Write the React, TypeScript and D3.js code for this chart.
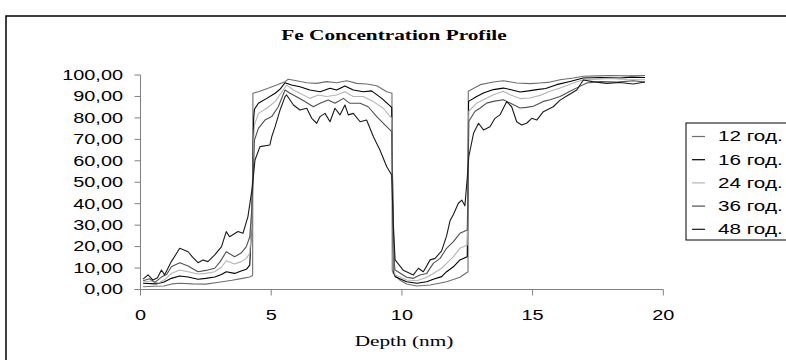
import React from 'react';
import * as d3 from 'd3';

const title = 'Fe Concentration Profile';
const xLabel = 'Depth (nm)';
const seriesNames = ['12 год.', '16 год.', '24 год.', '36 год.', '48 год.'];
const xTicks = [0, 5, 10, 15, 20];
const yTicks = [0, 10, 20, 30, 40, 50, 60, 70, 80, 90, 100];

// [depth (nm), Fe concentration]
const fe12: [number, number][] = [
  [0.1, 1.3], [0.5, 1.5], [0.9, 1.6], [1.2, 2.6], [1.5, 2.9], [2.0, 2.6], [2.5, 2.5], [3.0, 3.4], [3.5, 4.3], [3.9, 5.2],
  [4.18, 5.8], [4.29, 6.5], [4.30, 91.5], [4.51, 92.2], [4.70, 93], [5.21, 95.3], [5.53, 96.9], [5.65, 98], [5.97, 97.3],
  [6.36, 96.4], [6.74, 96.1], [7.12, 96.9], [7.5, 96.4], [7.89, 97.3], [8.27, 96.1], [8.65, 95.8], [9.04, 95], [9.42, 92.2],
  [9.62, 91.5], [9.63, 9], [9.67, 7.5], [9.92, 4.4], [10.18, 2.6], [10.57, 1.6], [11.08, 2.1], [11.71, 3.6], [12.22, 5.7],
  [12.53, 8.3], [12.54, 92.4], [13.0, 95.5], [13.5, 96.7], [13.88, 97.3], [14.39, 96.3], [14.9, 96], [15.28, 96.3],
  [15.67, 96.7], [16.05, 97.8], [16.56, 98.6], [16.94, 99.4], [17.5, 99.6], [17.96, 99.8], [18.6, 99.6], [19.3, 99.8],
];
const fe16: [number, number][] = [
  [0.1, 2.9], [0.6, 2.6], [0.9, 3.5], [1.18, 5.2], [1.5, 6.3], [1.82, 5.8], [2.2, 4.8], [2.5, 5.2], [2.84, 5.8], [3.1, 7],
  [3.28, 8.3], [3.6, 7.5], [3.85, 8.6], [4.05, 9.4], [4.18, 11.4], [4.25, 30], [4.30, 60], [4.33, 80], [4.36, 84],
  [4.51, 86.8], [4.83, 89.1], [5.15, 91.5], [5.35, 93.5], [5.53, 96.4], [5.78, 95.3], [6.1, 94.5], [6.48, 93], [6.87, 92.2],
  [7.25, 93.8], [7.5, 93], [7.82, 94.9], [8.14, 93], [8.52, 92.2], [8.84, 92.6], [9.23, 89.1], [9.61, 84.9], [9.65, 40],
  [9.69, 8], [9.74, 6], [10.18, 3.6], [10.57, 2.9], [10.95, 3.6], [11.2, 4.8], [11.52, 6], [11.71, 8.3], [11.97, 10.6],
  [12.22, 13.8], [12.5, 15.3], [12.53, 50], [12.55, 87.7], [12.86, 90], [13.12, 91.6], [13.5, 93.2], [13.88, 93.9],
  [14.14, 93.2], [14.52, 92.1], [14.85, 92.6], [15.16, 93.2], [15.5, 93.7], [15.92, 95.5], [16.43, 97], [16.94, 98.6],
  [17.6, 98.8], [18.34, 98.6], [18.8, 99], [19.3, 98.8],
];
const fe24: [number, number][] = [
  [0.1, 3.5], [0.4, 4], [0.7, 3], [0.95, 4.8], [1.18, 7.5], [1.5, 9.1], [1.82, 8.3], [2.2, 7.2], [2.5, 7.5], [2.84, 8.3],
  [3.1, 10.5], [3.28, 13.4], [3.6, 11.9], [3.85, 13], [4.05, 14.5], [4.18, 16.9], [4.25, 30], [4.3, 50], [4.33, 70],
  [4.36, 76.7], [4.51, 82.1], [4.83, 84.5], [5.15, 87.6], [5.46, 93], [5.59, 95.3], [5.85, 93], [6.1, 91.5], [6.48, 89.1],
  [6.8, 90.7], [7.12, 90], [7.5, 90.7], [7.82, 92.2], [8.14, 90], [8.52, 90], [8.91, 87.6], [9.29, 84.5], [9.61, 79.8],
  [9.65, 40], [9.7, 9], [9.74, 6.8], [10.18, 4.4], [10.57, 4.1], [10.95, 5.7], [11.2, 7.5], [11.52, 9.9], [11.71, 12.2],
  [11.97, 15.3], [12.22, 19.2], [12.5, 20.7], [12.53, 50], [12.56, 83.1], [12.86, 86.9], [13.12, 88.5], [13.5, 90.8],
  [13.88, 92.4], [14.14, 90.8], [14.52, 89], [14.9, 89.3], [15.28, 90.5], [15.67, 92.4], [16.05, 93.9], [16.56, 96.3],
  [16.94, 97.8], [17.5, 98], [17.96, 98.4], [18.6, 97.9], [19.3, 97.8],
];
const fe36: [number, number][] = [
  [0.1, 4.1], [0.35, 5], [0.55, 3.3], [0.8, 5.8], [1.0, 7], [1.18, 10.6], [1.5, 12.5], [1.82, 11], [2.2, 8.3], [2.5, 8.9],
  [2.84, 9.9], [3.05, 13], [3.28, 17.6], [3.6, 15.3], [3.85, 17], [4.05, 20], [4.18, 24.6], [4.26, 38], [4.32, 55],
  [4.36, 69.7], [4.51, 75.1], [4.76, 79], [5.02, 80.6], [5.27, 85.2], [5.53, 93], [5.72, 91.5], [5.97, 89.9], [6.29, 87.6],
  [6.61, 85.2], [6.87, 86.8], [7.18, 88.3], [7.44, 86.8], [7.76, 89.1], [8.01, 86.8], [8.4, 86.8], [8.71, 85.2],
  [9.04, 80.6], [9.35, 76.7], [9.61, 73.6], [9.66, 40], [9.71, 12], [9.74, 9.1], [10.18, 5.7], [10.44, 5.2], [10.69, 6.8],
  [10.95, 7.5], [11.2, 12.2], [11.46, 14.5], [11.71, 19.2], [11.97, 22.3], [12.22, 26.2], [12.5, 27.7], [12.53, 50],
  [12.56, 78.4], [12.8, 83.1], [13.0, 84.6], [13.24, 86.9], [13.5, 87.7], [13.88, 88.5], [14.14, 86.9], [14.52, 84.6],
  [14.77, 84.9], [15.03, 85.4], [15.41, 87.7], [15.67, 88.5], [16.05, 90], [16.43, 92.4], [16.81, 94.7], [17.07, 96.3],
  [17.6, 97], [18.22, 96.7], [18.85, 97.3], [19.3, 96.7],
];
const fe48: [number, number][] = [
  [0.1, 4.8], [0.29, 6.8], [0.48, 4.4], [0.65, 5.5], [0.8, 9.1], [0.92, 6.8], [1.18, 13], [1.5, 19.2], [1.82, 17.6],
  [2.0, 15], [2.2, 12.5], [2.39, 13.8], [2.58, 13], [2.84, 16.1], [3.1, 20], [3.28, 27], [3.41, 24.6], [3.73, 27],
  [3.92, 26.2], [4.11, 34], [4.27, 47], [4.38, 60.4], [4.57, 66.6], [4.95, 67.4], [5.02, 71.2], [5.15, 75.9], [5.34, 83.7],
  [5.53, 89.9], [5.59, 90.7], [5.85, 86], [6.1, 83.7], [6.36, 84.5], [6.55, 79.8], [6.74, 77.5], [6.87, 80.6], [7.06, 82.1],
  [7.25, 78.2], [7.44, 84.5], [7.63, 81.4], [7.82, 86], [7.95, 81.4], [8.14, 82.1], [8.4, 78.2], [8.65, 79], [8.91, 71.2],
  [9.16, 65], [9.42, 57.2], [9.61, 53.4], [9.67, 30], [9.74, 13.8], [10.05, 9], [10.44, 6.8], [10.63, 9.9], [10.82, 8.3],
  [11.08, 13.8], [11.27, 14.5], [11.52, 18], [11.71, 25], [11.84, 32], [11.97, 35], [12.16, 40.2], [12.29, 41.7],
  [12.41, 39], [12.5, 52], [12.56, 62], [12.74, 72.8], [12.93, 77.5], [13.12, 74.4], [13.37, 75.9], [13.56, 79.8],
  [13.75, 81.4], [14.01, 87.6], [14.2, 85.2], [14.39, 78.2], [14.58, 76.7], [14.77, 77.5], [14.97, 79.8], [15.16, 79],
  [15.41, 82.9], [15.79, 85.2], [16.05, 88.3], [16.37, 90.7], [16.69, 93], [16.94, 97.7], [17.3, 96.9], [17.83, 96.1],
  [18.34, 96.5], [18.85, 95.8], [19.3, 96.7],
];

const seriesData = [fe12, fe16, fe24, fe36, fe48];
const seriesColors = ['#6e6e6e', '#000000', '#b4b4b4', '#505050', '#1a1a1a'];

const SX = 1.42;
const sans = 'Liberation Sans, Arial, sans-serif';
const serif = 'Liberation Serif, Times New Roman, serif';

export default function App() {
  const x = d3.scaleLinear().domain([0, 20]).range([140.5, 663.3]);
  const y = d3.scaleLinear().domain([0, 100]).range([289.5, 75]);
  const line = d3
    .line<[number, number]>()
    .x((d) => x(d[0]))
    .y((d) => y(d[1]));

  const legendX = 686;
  const legendY = 123;
  const rowH = 23.2;

  return (
    <svg
      width={786}
      height={360}
      style={{ position: 'absolute', left: 0, top: 0, background: '#fff' }}
    >
      <rect x={0} y={0} width={786} height={360} fill="#fff" />
      <rect x={6} y={16} width={820} height={400} fill="none" stroke="#000" strokeWidth={1.5} />
      <text
        transform={`translate(394,40) scale(${SX},1)`}
        textAnchor="middle"
        fontFamily={serif}
        fontWeight="bold"
        fontSize={15}
      >
        {title}
      </text>

      {/* axes */}
      <line x1={x(0)} x2={x(0)} y1={y(100)} y2={y(0)} stroke="#808080" strokeWidth={1} />
      <line x1={x(0)} x2={x(20)} y1={y(0)} y2={y(0)} stroke="#808080" strokeWidth={1} />
      {yTicks.map((t) => (
        <g key={'y' + t}>
          <line x1={x(0) - 6} x2={x(0)} y1={y(t)} y2={y(t)} stroke="#808080" />
          <text
            transform={`translate(123,${y(t)}) scale(${SX},1)`}
            textAnchor="end"
            dominantBaseline="central"
            fontFamily={sans}
            fontSize={14}
          >
            {d3.format('.2f')(t).replace('.', ',')}
          </text>
        </g>
      ))}
      {xTicks.map((t) => (
        <g key={'x' + t}>
          <line x1={x(t)} x2={x(t)} y1={y(0)} y2={y(0) + 6} stroke="#808080" />
          <text
            transform={`translate(${x(t)},315) scale(${SX},1)`}
            textAnchor="middle"
            dominantBaseline="central"
            fontFamily={sans}
            fontSize={14}
          >
            {t}
          </text>
        </g>
      ))}
      <text
        transform={`translate(404,341) scale(${SX},1)`}
        textAnchor="middle"
        dominantBaseline="central"
        fontFamily={serif}
        fontSize={15}
      >
        {xLabel}
      </text>

      {/* series */}
      {seriesData.map((s, i) => (
        <path key={i} d={line(s) || ''} fill="none" stroke={seriesColors[i]} strokeWidth={1.1} strokeLinejoin="round" />
      ))}

      {/* legend */}
      <rect x={legendX} y={legendY} width={140} height={117} fill="#fff" stroke="#000" strokeWidth={1} />
      {seriesNames.map((n, i) => {
        const cy = legendY + 13.5 + i * rowH;
        return (
          <g key={n}>
            <line x1={legendX + 6} x2={legendX + 19} y1={cy} y2={cy} stroke={seriesColors[i]} strokeWidth={1.2} />
            <text
              transform={`translate(${legendX + 32},${cy}) scale(1.38,1)`}
              dominantBaseline="central"
              fontFamily={sans}
              fontSize={15}
            >
              {n}
            </text>
          </g>
        );
      })}
    </svg>
  );
}
